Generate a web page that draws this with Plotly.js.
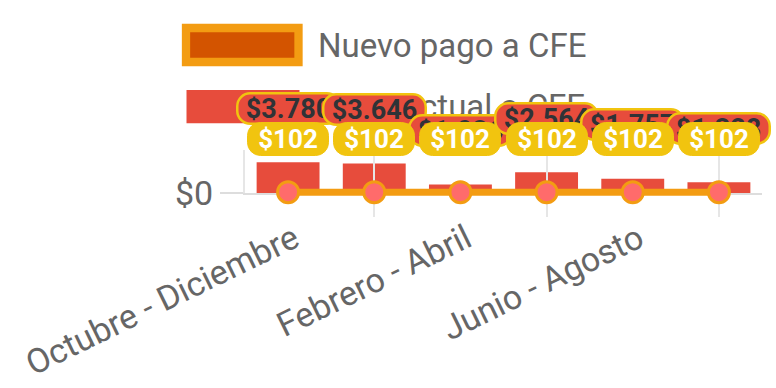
<!DOCTYPE html>
<html>
<head>
<meta charset="utf-8">
<script src="https://cdn.plot.ly/plotly-3.0.1.min.js"></script>
<style>html,body{margin:0;padding:0;background:#fff;}#chart{width:776px;height:388px;}</style>
</head>
<body>
<div id="chart"></div>
<script>
// ---- data ----
var categories = ["Octubre - Diciembre", "Diciembre - Febrero", "Febrero - Abril", "Abril - Junio", "Junio - Agosto", "Agosto - Octubre"];
var pagoActual = [3780, 3646, 1036, 2564, 1757, 1328];
var nuevoPago = [102, 102, 102, 102, 102, 102];
var seriesNames = ["Nuevo pago a CFE", "Pago actual a CFE"];
var yTickVals = [0];
var yTickText = ["$0"];

function money(v) {
  return "$" + String(v).replace(/\B(?=(\d{3})+(?!\d))/g, ".");
}

var xIdx = categories.map(function (c, i) { return i; });
var FONT = "Roboto, 'Open Sans', sans-serif";

// ---- geometry (pixels) ----
var W = 776, H = 388;
var mTop = 150, mBottom = 175;          // outer plot region: 150 .. 213
var barPlotBottomPx = 193;              // bar axis bottom at 193
var plotH = H - mTop - mBottom;         // 63
var yRange = [0, 5300];
var yDomLow = ((H - mBottom) - barPlotBottomPx) / plotH;
var unitsPerPx = (yRange[1] - yRange[0]) / (plotH * (1 - yDomLow));
var y2Range = [yRange[0] - unitsPerPx * plotH * yDomLow, yRange[1]];

var shapes = [];
function legendBox(x0, x1, y0, y1, fill, lineColor, lineWidth) {
  shapes.push({
    type: "rect", layer: "above",
    xref: "paper", yref: "paper", xsizemode: "pixel", ysizemode: "pixel",
    xanchor: 0, yanchor: 1,
    x0: x0, x1: x1, y0: y0, y1: y1,
    fillcolor: fill, line: {color: lineColor, width: lineWidth}
  });
}
legendBox(-59, 53.5, 122, 88, "#D35400", "#F39C12", 8.3);
legendBox(-58.5, 54.5, 60, 26.7, "#E74C3C", "rgba(0,0,0,0)", 0);

var annotations = [];
// legend texts first so that data labels cover them
[[seriesNames[0], 105], [seriesNames[1], 44]].forEach(function (p) {
  annotations.push({
    xref: "paper", yref: "paper", x: 0, y: 1, xanchor: "left", yanchor: "middle",
    xshift: 72, yshift: p[1], showarrow: false, text: p[0], borderpad: 0,
    font: {family: FONT, size: 33, color: "#666666"}
  });
});
pagoActual.forEach(function (v, i) {
  annotations.push({
    xref: "x", yref: "y", x: xIdx[i], y: v, xanchor: "center", yanchor: "middle",
    yshift: 54, showarrow: false, text: money(v),
    width: 96, height: 24, borderpad: 2, borderwidth: 2.5,
    bgcolor: "#E74C3C", bordercolor: "#F1C40F",
    font: {family: FONT, size: 27, color: "#2F3337", weight: "bold"}
  });
});
nuevoPago.forEach(function (v, i) {
  annotations.push({
    xref: "x", yref: "y2", x: xIdx[i], y: v, xanchor: "center", yanchor: "middle",
    yshift: 53, showarrow: false, text: money(v),
    width: 76, height: 28, borderpad: 2, borderwidth: 1,
    bgcolor: "#F1C40F", bordercolor: "#F1C40F",
    font: {family: FONT, size: 26, color: "#FFFFFF", weight: "bold"}
  });
});

var traces = [
  {
    type: "bar", name: seriesNames[1], x: xIdx, y: pagoActual, xaxis: "x", yaxis: "y",
    width: 0.73, marker: {color: "#E74C3C"}, showlegend: false, hoverinfo: "skip"
  },
  {
    type: "scatter", mode: "lines+markers", name: seriesNames[0], x: xIdx, y: nuevoPago,
    xaxis: "x", yaxis: "y2",
    line: {color: "#F39C12", width: 7},
    marker: {size: 21, color: "#FF6B6B", line: {color: "#F39C12", width: 3}},
    cliponaxis: false, showlegend: false, hoverinfo: "skip"
  }
];

var layout = {
  width: W, height: H, autosize: false,
  margin: {l: 245, r: 14, t: mTop, b: mBottom, pad: 0},
  paper_bgcolor: "#ffffff", plot_bgcolor: "rgba(0,0,0,0)",
  showlegend: false,
  font: {family: FONT, color: "#666666"},
  xaxis: {
    anchor: "y",
    range: [-0.5, 5.5], fixedrange: true,
    tickmode: "array",
    tickvals: [xIdx[0], xIdx[2], xIdx[4]],
    ticktext: [categories[0], categories[2], categories[4]],
    tickangle: -26,
    tickfont: {family: FONT, size: 34, color: "#666666"},
    ticks: "", showgrid: false, zeroline: false,
    showline: true, linecolor: "#dddddd", linewidth: 2,
    ticklabelstandoff: 11, ticklabelshift: 6,
    minor: {tickmode: "array", tickvals: [xIdx[1], xIdx[3], xIdx[5]], showgrid: true,
      gridcolor: "#e6e6e6", gridwidth: 2, ticks: "outside", ticklen: 22, tickcolor: "#e6e6e6", tickwidth: 2}
  },
  yaxis: {
    domain: [yDomLow, 1], anchor: "x",
    range: yRange, fixedrange: true,
    tickmode: "array", tickvals: yTickVals, ticktext: yTickText,
    tickfont: {family: FONT, size: 34, color: "#666666"},
    ticks: "outside", ticklen: 23, tickcolor: "#dddddd", tickwidth: 2,
    showgrid: false, zeroline: false,
    showline: true, linecolor: "#e6e6e6", linewidth: 2,
    ticklabelstandoff: 0
  },
  yaxis2: {
    domain: [0, 1], anchor: "x", range: y2Range, fixedrange: true,
    visible: false, showgrid: false, zeroline: false
  },
  shapes: shapes,
  annotations: annotations
};

Plotly.newPlot("chart", traces, layout, {displayModeBar: false, staticPlot: true}).then(function (gd) {
  gd.querySelectorAll("g.annotation rect.bg").forEach(function (r) {
    r.setAttribute("rx", 13);
    r.setAttribute("ry", 13);
  });
});
</script>
</body>
</html>
